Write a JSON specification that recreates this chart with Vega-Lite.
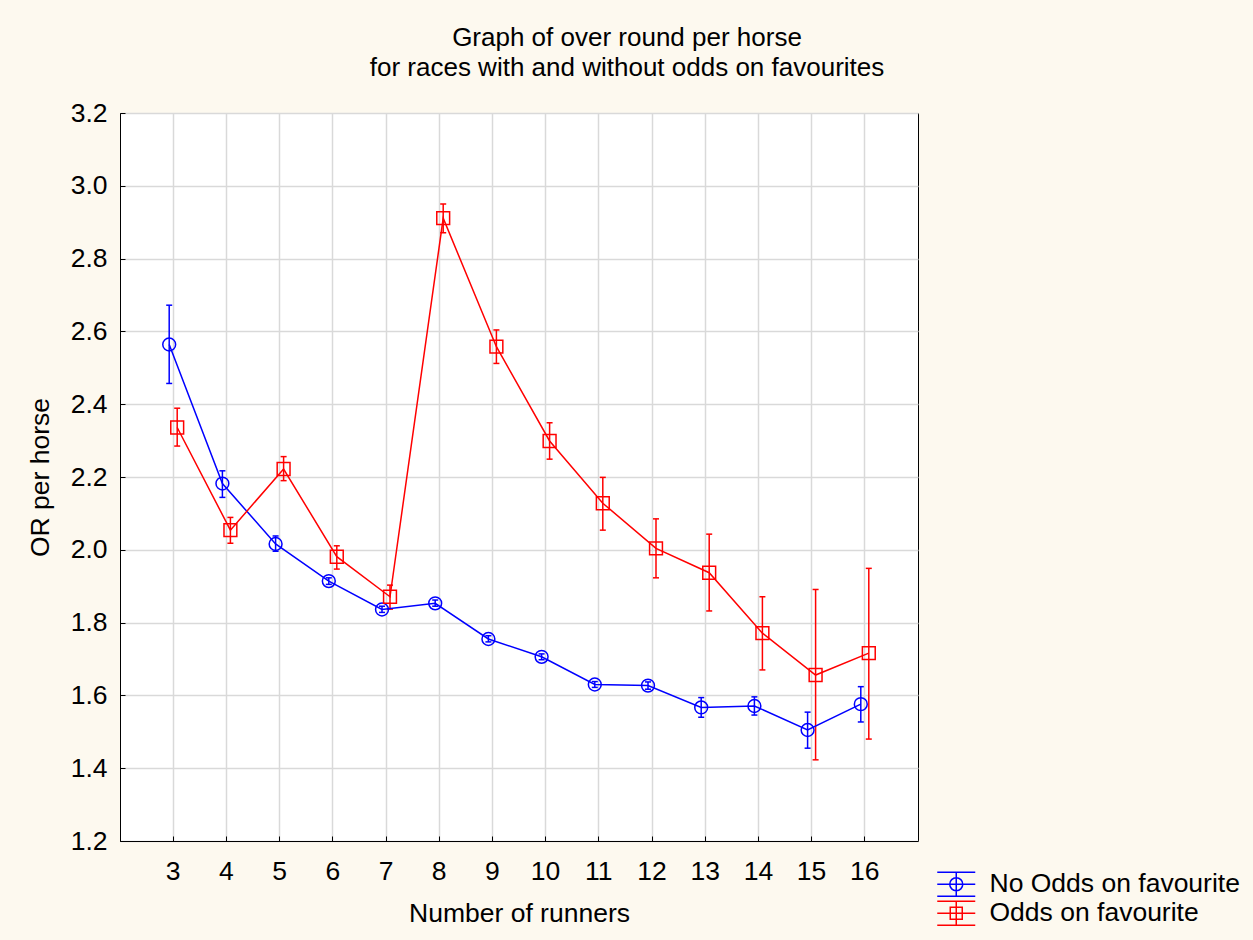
{
  "$schema": "https://vega.github.io/schema/vega-lite/v6.json",
  "width": 798,
  "height": 728,
  "autosize": {"type": "none"},
  "padding": {"left": 120, "top": 113, "right": 335, "bottom": 99},
  "background": "#FDF9EF",
  "title": {
    "text": ["Graph of over round per horse", "for races with and without odds on favourites"],
    "font": "Liberation Sans",
    "fontSize": 26,
    "fontWeight": "normal",
    "color": "black",
    "lineHeight": 30,
    "anchor": "middle",
    "dx": 108,
    "offset": 19
  },
  "config": {
    "font": "Liberation Sans",
    "view": {"stroke": "black", "strokeWidth": 1, "fill": "white"},
    "axis": {
      "labelFont": "Liberation Sans",
      "titleFont": "Liberation Sans",
      "labelFontSize": 26.5,
      "titleFontSize": 26.5,
      "labelColor": "black",
      "titleColor": "black",
      "titleFontWeight": "normal",
      "domainColor": "black",
      "tickColor": "black",
      "gridColor": "#D9D9D9",
      "gridWidth": 1.5,
      "tickSize": -5,
      "grid": true
    },
    "legend": {
      "labelFont": "Liberation Sans",
      "labelFontSize": 26.5,
      "labelColor": "black",
      "labelLimit": 500,
      "symbolFillColor": "transparent"
    }
  },
  "data": {
    "values": [
      {"runners": 3, "series": "No Odds on favourite", "or": 2.564, "lo": 2.457, "hi": 2.672},
      {"runners": 4, "series": "No Odds on favourite", "or": 2.182, "lo": 2.144, "hi": 2.217},
      {"runners": 5, "series": "No Odds on favourite", "or": 2.016, "lo": 1.996, "hi": 2.038},
      {"runners": 6, "series": "No Odds on favourite", "or": 1.914, "lo": 1.905, "hi": 1.923},
      {"runners": 7, "series": "No Odds on favourite", "or": 1.836, "lo": 1.828, "hi": 1.845},
      {"runners": 8, "series": "No Odds on favourite", "or": 1.853, "lo": 1.845, "hi": 1.862},
      {"runners": 9, "series": "No Odds on favourite", "or": 1.755, "lo": 1.747, "hi": 1.764},
      {"runners": 10, "series": "No Odds on favourite", "or": 1.706, "lo": 1.698, "hi": 1.714},
      {"runners": 11, "series": "No Odds on favourite", "or": 1.630, "lo": 1.622, "hi": 1.638},
      {"runners": 12, "series": "No Odds on favourite", "or": 1.627, "lo": 1.617, "hi": 1.637},
      {"runners": 13, "series": "No Odds on favourite", "or": 1.567, "lo": 1.540, "hi": 1.594},
      {"runners": 14, "series": "No Odds on favourite", "or": 1.571, "lo": 1.546, "hi": 1.596},
      {"runners": 15, "series": "No Odds on favourite", "or": 1.505, "lo": 1.455, "hi": 1.554},
      {"runners": 16, "series": "No Odds on favourite", "or": 1.576, "lo": 1.527, "hi": 1.624},
      {"runners": 3, "series": "Odds on favourite", "or": 2.336, "lo": 2.285, "hi": 2.389},
      {"runners": 4, "series": "Odds on favourite", "or": 2.054, "lo": 2.018, "hi": 2.089},
      {"runners": 5, "series": "Odds on favourite", "or": 2.222, "lo": 2.190, "hi": 2.256},
      {"runners": 6, "series": "Odds on favourite", "or": 1.981, "lo": 1.947, "hi": 2.011},
      {"runners": 7, "series": "Odds on favourite", "or": 1.871, "lo": 1.837, "hi": 1.903},
      {"runners": 8, "series": "Odds on favourite", "or": 2.911, "lo": 2.871, "hi": 2.950},
      {"runners": 9, "series": "Odds on favourite", "or": 2.558, "lo": 2.512, "hi": 2.604},
      {"runners": 10, "series": "Odds on favourite", "or": 2.299, "lo": 2.249, "hi": 2.349},
      {"runners": 11, "series": "Odds on favourite", "or": 2.128, "lo": 2.054, "hi": 2.199},
      {"runners": 12, "series": "Odds on favourite", "or": 2.004, "lo": 1.923, "hi": 2.085},
      {"runners": 13, "series": "Odds on favourite", "or": 1.937, "lo": 1.832, "hi": 2.043},
      {"runners": 14, "series": "Odds on favourite", "or": 1.771, "lo": 1.670, "hi": 1.871},
      {"runners": 15, "series": "Odds on favourite", "or": 1.656, "lo": 1.423, "hi": 1.891},
      {"runners": 16, "series": "Odds on favourite", "or": 1.716, "lo": 1.480, "hi": 1.949}
    ]
  },
  "encoding": {
    "x": {
      "field": "runners",
      "type": "ordinal",
      "title": "Number of runners",
      "scale": {"type": "band", "paddingInner": 0, "paddingOuter": 0.5},
      "axis": {"labelAngle": 0, "bandPosition": 0.5, "labelPadding": 22, "titlePadding": 16}
    },
    "xOffset": {
      "field": "series",
      "type": "nominal",
      "scale": {"type": "band", "range": [18.6, 34.6], "paddingInner": 0, "paddingOuter": 0}
    },
    "color": {
      "field": "series",
      "type": "nominal",
      "scale": {"domain": ["No Odds on favourite", "Odds on favourite"], "range": ["#0000FF", "#FF0000"]},
      "legend": {
        "title": null,
        "orient": "none",
        "legendX": 823,
        "legendY": 758,
        "symbolSize": 400,
        "symbolStrokeWidth": 1.5,
        "symbolOpacity": 1,
        "symbolFillColor": "transparent",
        "rowPadding": -2,
        "labelOffset": 20
      }
    }
  },
  "layer": [
    {
      "mark": {"type": "rule", "strokeWidth": 1.5},
      "encoding": {
        "y": {"field": "lo", "type": "quantitative", "title": "OR per horse", "scale": {"domain": [1.2, 3.2], "nice": false, "zero": false}, "axis": {"values": [1.2, 1.4, 1.6, 1.8, 2.0, 2.2, 2.4, 2.6, 2.8, 3.0, 3.2], "format": ".1f", "labelPadding": 18, "titlePadding": 16}},
        "y2": {"field": "hi"}
      }
    },
    {
      "mark": {"type": "point", "shape": "stroke", "filled": false, "size": 36, "strokeWidth": 1.5, "opacity": 1},
      "encoding": {
        "y": {"field": "lo", "type": "quantitative", "title": "OR per horse", "scale": {"domain": [1.2, 3.2], "nice": false, "zero": false}}
      }
    },
    {
      "mark": {"type": "point", "shape": "stroke", "filled": false, "size": 36, "strokeWidth": 1.5, "opacity": 1},
      "encoding": {
        "y": {"field": "hi", "type": "quantitative", "title": "OR per horse", "scale": {"domain": [1.2, 3.2], "nice": false, "zero": false}}
      }
    },
    {
      "mark": {"type": "line", "strokeWidth": 1.5},
      "encoding": {
        "y": {"field": "or", "type": "quantitative", "title": "OR per horse", "scale": {"domain": [1.2, 3.2], "nice": false, "zero": false}}
      }
    },
    {
      "transform": [{"filter": "datum.series === 'No Odds on favourite'"}],
      "mark": {"type": "point", "shape": "circle", "filled": false, "size": 165, "strokeWidth": 1.5, "opacity": 1},
      "encoding": {
        "y": {"field": "or", "type": "quantitative", "title": "OR per horse", "scale": {"domain": [1.2, 3.2], "nice": false, "zero": false}}
      }
    },
    {
      "transform": [{"filter": "datum.series === 'Odds on favourite'"}],
      "mark": {"type": "point", "shape": "square", "filled": false, "size": 165, "strokeWidth": 1.5, "opacity": 1},
      "encoding": {
        "y": {"field": "or", "type": "quantitative", "title": "OR per horse", "scale": {"domain": [1.2, 3.2], "nice": false, "zero": false}}
      }
    },
    {
      "mark": {"type": "point", "filled": false, "opacity": 0, "strokeWidth": 1.5},
      "encoding": {
        "y": {"field": "or", "type": "quantitative", "title": "OR per horse", "scale": {"domain": [1.2, 3.2], "nice": false, "zero": false}},
        "shape": {
          "field": "series",
          "type": "nominal",
          "scale": {
            "domain": ["No Odds on favourite", "Odds on favourite"],
            "range": [
              "M-1.9,-1.2H1.9M-1.9,0H1.9M-1.9,1.2H1.9M0,-1.2V1.2M0.65,0A0.65,0.65 0 1,1 -0.65,0A0.65,0.65 0 1,1 0.65,0Z",
              "M-1.9,-1.2H1.9M-1.9,0H1.9M-1.9,1.2H1.9M0,-1.2V1.2M-0.6,-0.6H0.6V0.6H-0.6Z"
            ]
          },
          "legend": {
            "title": null,
            "orient": "none",
            "legendX": 823,
            "legendY": 758,
            "symbolSize": 400,
            "symbolStrokeWidth": 1.5,
            "symbolOpacity": 1,
            "symbolFillColor": "transparent",
            "rowPadding": -2,
            "labelOffset": 20
          }
        }
      }
    }
  ]
}
